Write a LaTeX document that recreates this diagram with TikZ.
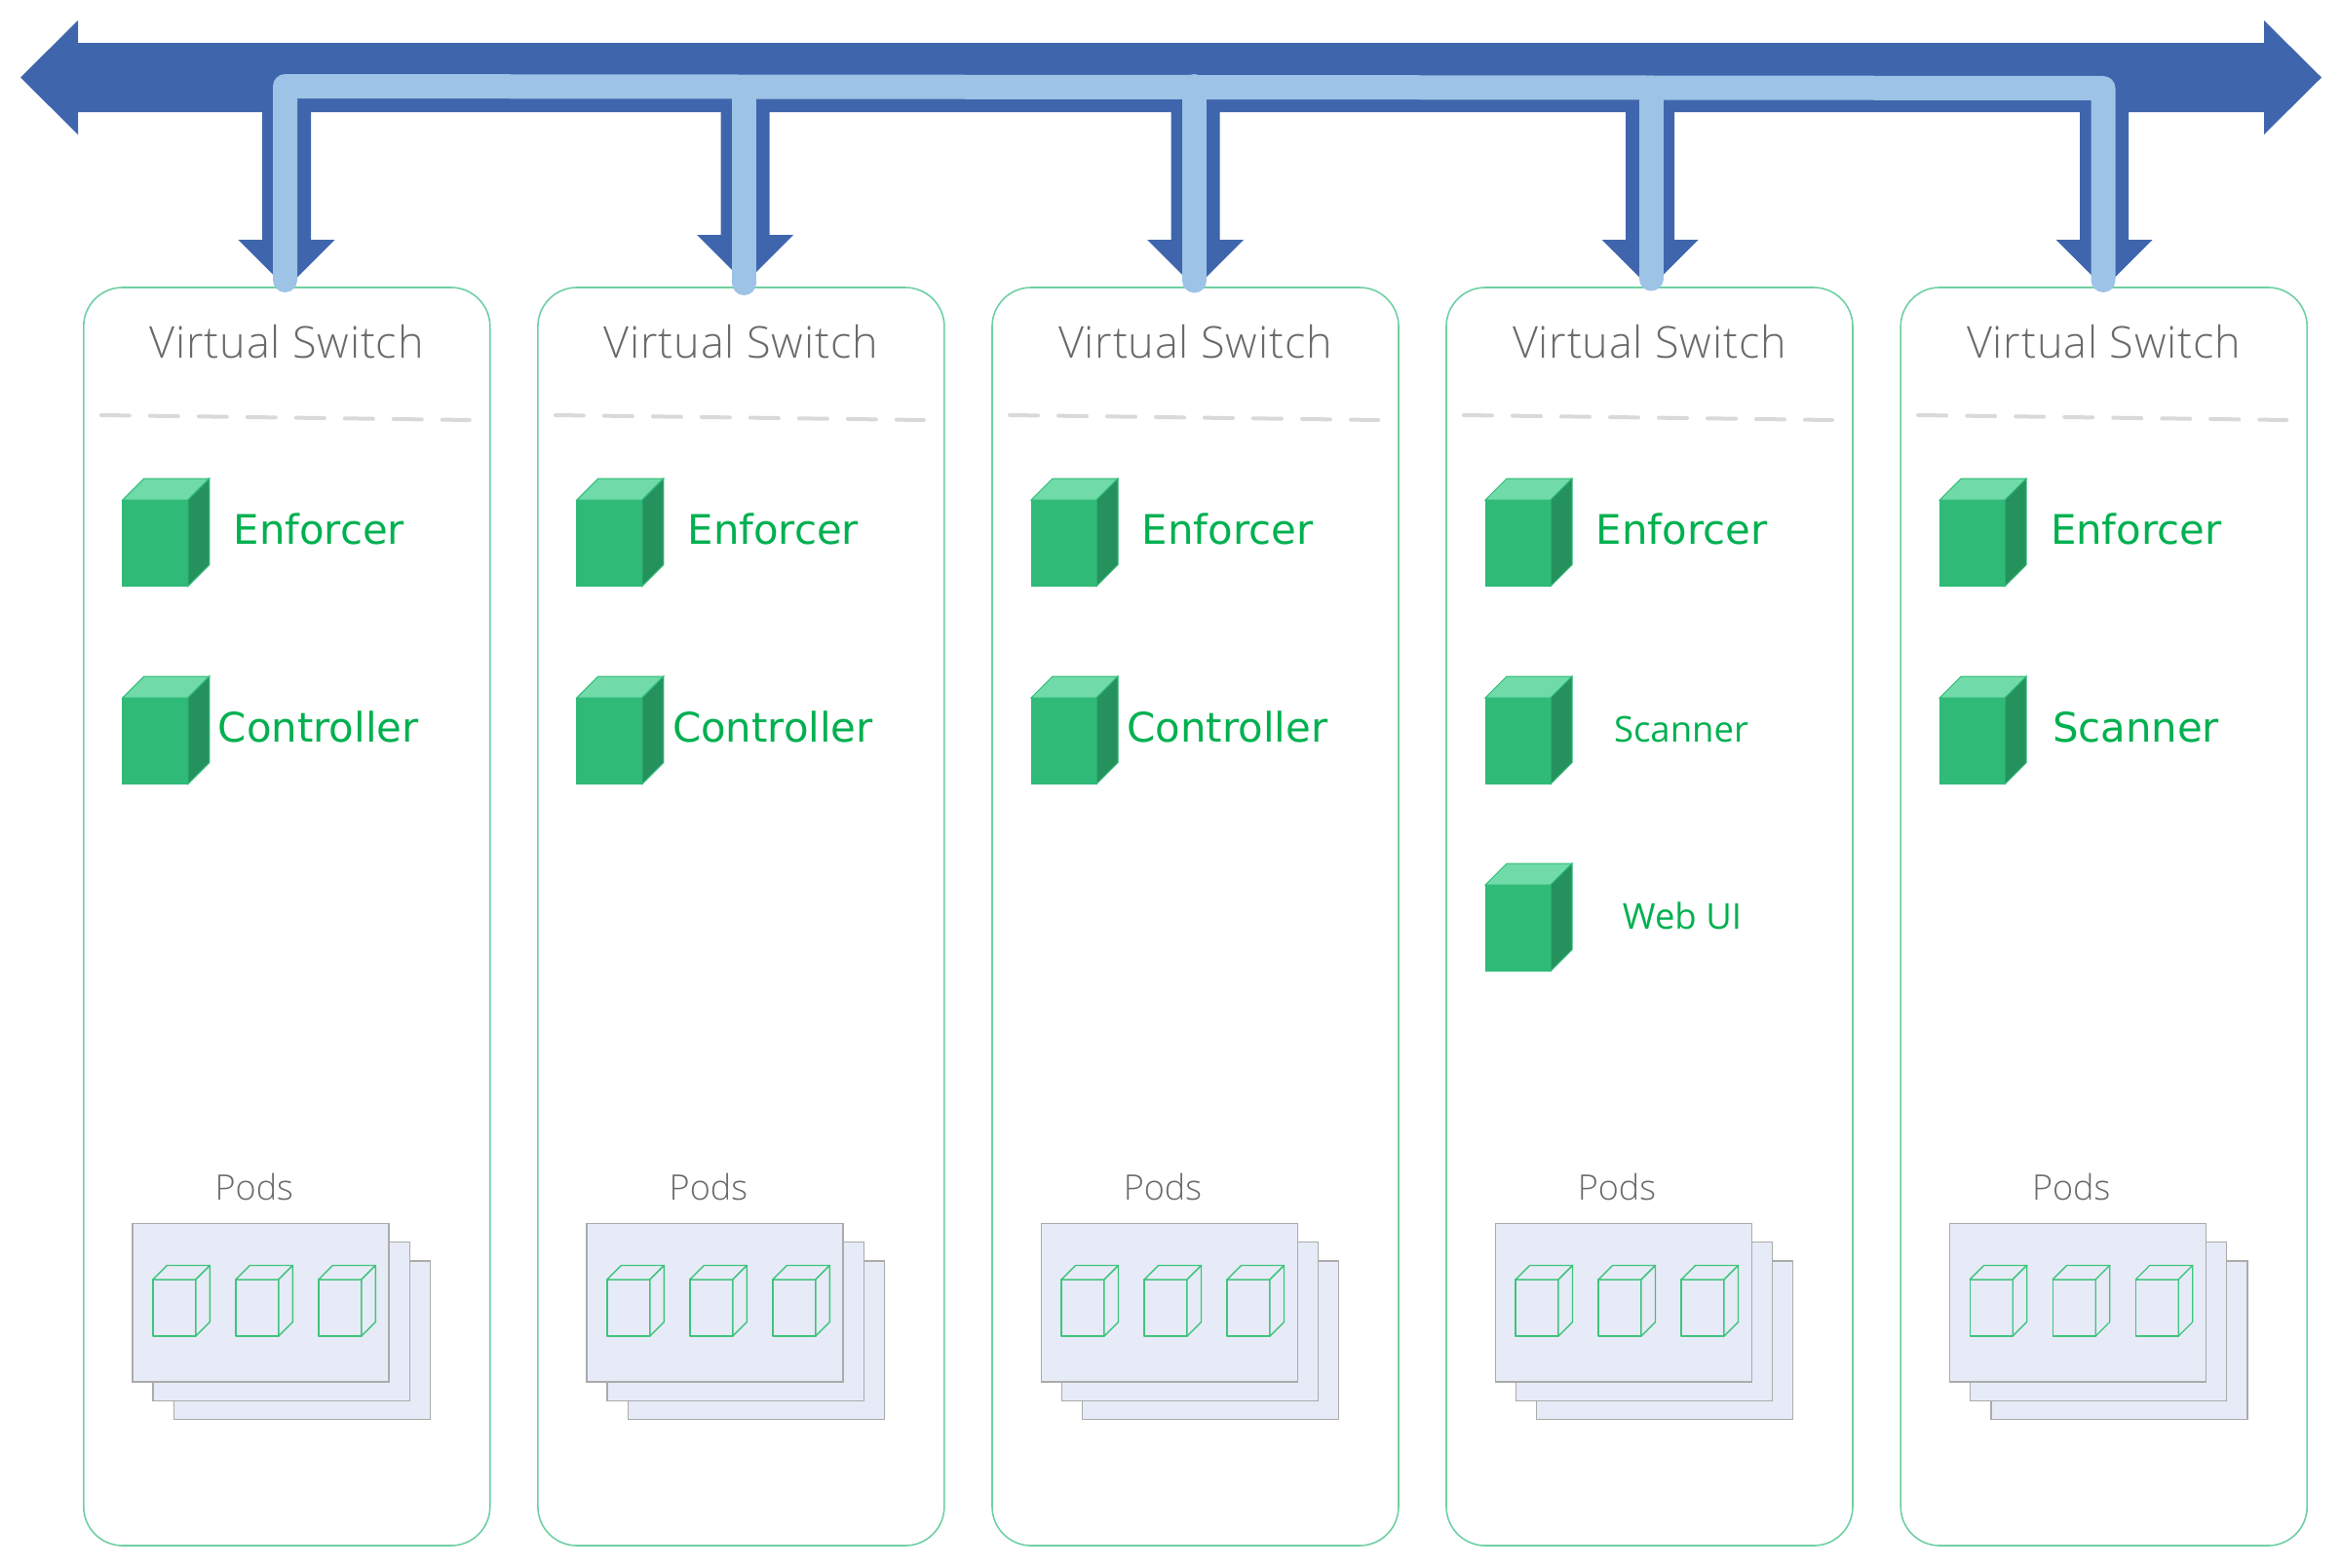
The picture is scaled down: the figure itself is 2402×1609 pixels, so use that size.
\documentclass[tikz,border=0pt]{standalone}
\usepackage{fontspec}
\setmainfont{Open Sans}
\newfontfamily\dejavu{DejaVu Sans}
\newfontfamily\oslight{Open Sans Light}
\newfontfamily\oslightvs[LetterSpace=1.8]{Open Sans Light}
\definecolor{bluedark}{HTML}{3F65AD}
\definecolor{bluelight}{HTML}{9DC3E6}
\definecolor{boxedge}{HTML}{6FD0A3}
\definecolor{txtgreen}{HTML}{00B050}
\definecolor{txtgray}{HTML}{6A6A6A}
\definecolor{cubefront}{HTML}{2FBA78}
\definecolor{cubetop}{HTML}{70DBA8}
\definecolor{cubeside}{HTML}{25925D}
\definecolor{podfill}{HTML}{E6EBF7}
\definecolor{podedge}{HTML}{ABABAB}
\definecolor{divider}{HTML}{D9D9D9}
\tikzset{
  x=1pt,y=-1pt,
  vmbox/.style={draw=boxedge,line width=1.6pt,rounded corners=40pt,fill=white},
  bigfill/.style={fill=bluedark},
  pipe/.style={draw=bluelight,line width=25pt,line cap=round,line join=round},
  divline/.style={draw=divider,line width=4pt,line cap=round,dash pattern=on 29pt off 21pt},
  podrect/.style={draw=podedge,line width=1.3pt,fill=podfill},
  smallcube/.style={draw=txtgreen!75!white,line width=1.4pt,fill=podfill,line join=round},
  vstitle/.style={font=\oslightvs\fontsize{45}{52}\selectfont,text=txtgray,anchor=base,inner sep=0pt},
  podlabel/.style={font=\oslight\fontsize{36}{42}\selectfont,text=txtgray,anchor=base,inner sep=0pt},
  svc/.style={font=\dejavu\fontsize{41.8}{48}\selectfont,text=txtgreen,anchor=base,inner sep=0pt},
  svcsmall/.style={font=\fontsize{36.5}{42}\selectfont,text=txtgreen,anchor=base,inner sep=0pt},
}
% #1 x of front left, #2 y of front top
\newcommand{\solidcube}[2]{%
  \fill[cubefront,draw=cubefront,line width=1pt] (#1,#2) rectangle ++(67,88.5);
  \fill[cubetop,draw=cubefront,line width=1pt] (#1,#2) -- ++(22,-22) -- ++(67,0) -- ++(-22,22) -- cycle;
  \fill[cubeside,draw=cubefront,line width=1pt] (#1+67,#2) -- ++(22,-22) -- ++(0,88.5) -- ++(-22,22) -- cycle;
}
\newcommand{\podcube}[2]{%
  \path[smallcube] (#1,#2) rectangle ++(44,58);
  \path[smallcube] (#1,#2) -- ++(14.5,-14.5) -- ++(44,0) -- ++(-14.5,14.5) -- cycle;
  \path[smallcube] (#1+44,#2) -- ++(14.5,-14.5) -- ++(0,58) -- ++(-14.5,14.5) -- cycle;
}
\begin{document}
\begin{tikzpicture}
\useasboundingbox (0,0) rectangle (2402,1609);
% bus
\fill[bigfill] (21,79.5) -- (80,21) -- (80,44) -- (2323,44) -- (2323,21) -- (2382,79.5) -- (2323,138) -- (2323,115) -- (80,115) -- (80,138) -- cycle;
% down arrows
\foreach \c/\b in {294/246,764.5/241,1226.5/246,1693/246,2159/246}{
  \fill[bigfill] (\c-25,110) -- (\c+25,110) -- (\c+25,\b) -- (\c+49.5,\b) -- (\c,\b+49.5) -- (\c-49.5,\b) -- (\c-25,\b) -- cycle;
}
% virtual machines
\foreach \i/\L in {1/85.8,2/551.9,3/1018,4/1484,5/1950.2}{
  \path[vmbox] (\L,295) rectangle (\L+417,1586);
  \node[vstitle] (vs\i) at (\L+208.5,367) {Virtual Switch};
  \coordinate (da\i) at (\L+18,426);
  \coordinate (db\i) at (\L+396,431);
  \draw[divline] (da\i) -- (db\i);
  \solidcube{\L+40}{513}
  \node[svc] (enf\i) at (\L+241.5,558.5) {Enforcer};
  \solidcube{\L+40}{716}
  \node[podlabel] (pl\i) at (\L+175,1231.5) {Pods};
  \path[podrect] (\L+92.8,1294) rectangle (\L+355.8,1456.7);
  \path[podrect] (\L+71.2,1274.7) rectangle (\L+334.5,1437.5);
  \path[podrect] (\L+50.2,1255.5) rectangle (\L+313.2,1418);
  \podcube{\L+71}{1313}
  \podcube{\L+156}{1313}
  \podcube{\L+241}{1313}
}
\node[svc] (c1) at (85.8+241,761.5) {Controller};
\node[svc] (c2) at (551.9+241,761.5) {Controller};
\node[svc] (c3) at (1018+241.5,761.5) {Controller};
\node[svcsmall] (sc4) at (1725,761.5) {Scanner};
\solidcube{1524}{908}
\node[svcsmall] (web) at (1726,953) {Web UI};
\node[svc] (sc5) at (2191.5,761.5) {Scanner};
% light pipe
\coordinate (p1) at (292.5,287.5);
\coordinate (p5) at (2158,287.5);
\draw[pipe] (p1) -- (292.5,88.5) -- (2158,90.5) -- (p5);
\draw[pipe] (763.5,90) -- (763.5,290.5);
\draw[pipe] (1225.5,88.5) -- (1225.5,288);
\draw[pipe] (1694,90) -- (1694,286);
\end{tikzpicture}
\end{document}
